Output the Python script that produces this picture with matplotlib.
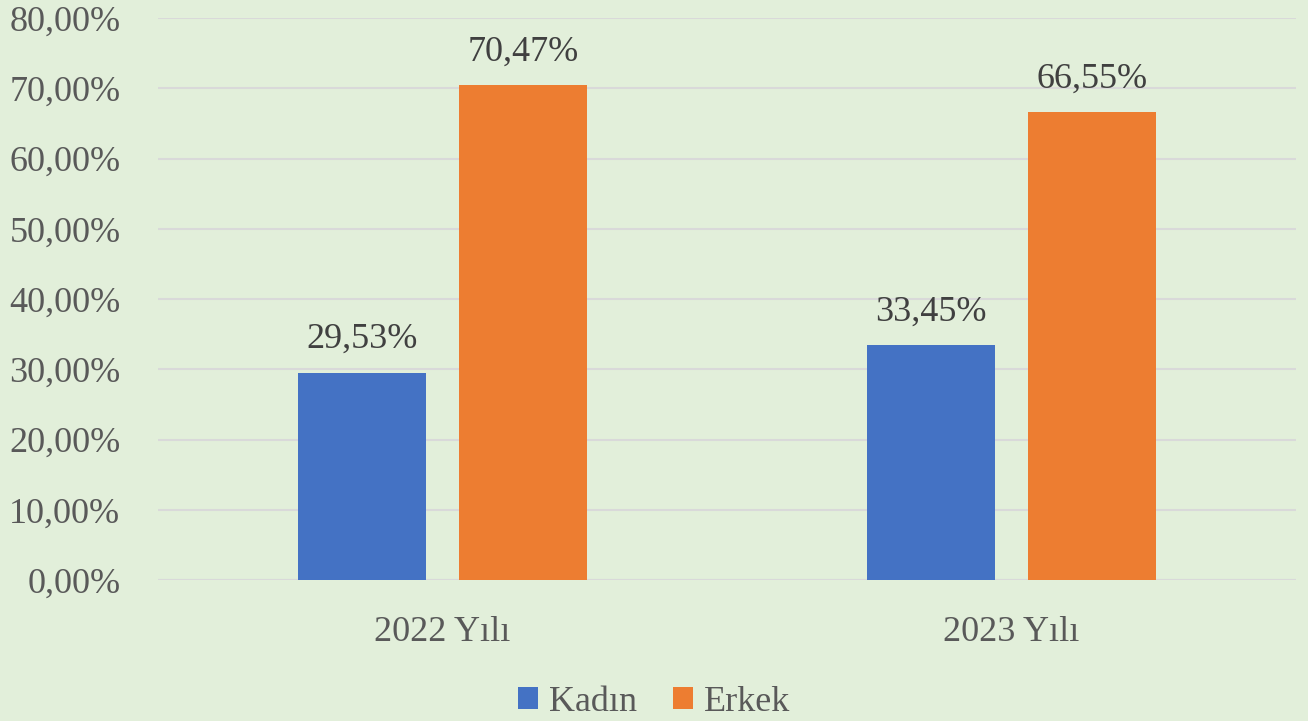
import matplotlib.pyplot as plt
import numpy as np

# Veriler
categories = ["2022 Yılı", "2023 Yılı"]
kadin = [29.53, 33.45]
erkek = [70.47, 66.55]
series_names = ["Kadın", "Erkek"]
yticks = [0, 10, 20, 30, 40, 50, 60, 70, 80]

bg = "#E2EFDA"
txt = "#595959"
plt.rcParams['font.family'] = ['Liberation Serif', 'DejaVu Serif']

fig = plt.figure(figsize=(13.08, 7.21), dpi=100, facecolor=bg)
ax = fig.add_axes([158 / 1308, 1 - 580 / 721, (1296 - 158) / 1308, (580 - 18) / 721])
ax.set_facecolor(bg)

x = np.arange(len(categories))
w = 0.225
b1 = ax.bar(x - 0.142, kadin, w, color="#4472C4", label=series_names[0], zorder=3)
b2 = ax.bar(x + 0.142, erkek, w, color="#ED7D31", label=series_names[1], zorder=3)

for bars in (b1, b2):
    for r in bars:
        v = r.get_height()
        ax.annotate(f"{v:.2f}%".replace(".", ","), (r.get_x() + r.get_width() / 2, v),
                    xytext=(0, 12), textcoords="offset points", ha="center", va="bottom",
                    fontsize=26, color="#404040")

ax.set_xlim(-0.5, 1.5)
ax.set_ylim(0, 80)
ax.set_yticks(yticks)
ax.set_yticklabels([f"{t:.2f}%".replace(".", ",") for t in yticks], fontsize=26, color=txt)
ax.set_xticks(x)
ax.set_xticklabels(categories, fontsize=26, color=txt)
ax.tick_params(length=0, axis="y", pad=27)
ax.tick_params(length=0, axis="x", pad=26)
ax.grid(axis="y", color="#D9D9D9", linewidth=1.5, zorder=0)
for s in ax.spines.values():
    s.set_visible(False)
ax.axhline(0, color="#D9D9D9", linewidth=1.5, zorder=1)

fig.legend(loc="lower center", bbox_to_anchor=(0.5, -0.042), ncol=2, frameon=False,
           fontsize=26, labelcolor=txt, handlelength=0.55, handleheight=0.55,
           handletextpad=0.3, columnspacing=1.0)

fig.savefig("out.png", facecolor=bg)
